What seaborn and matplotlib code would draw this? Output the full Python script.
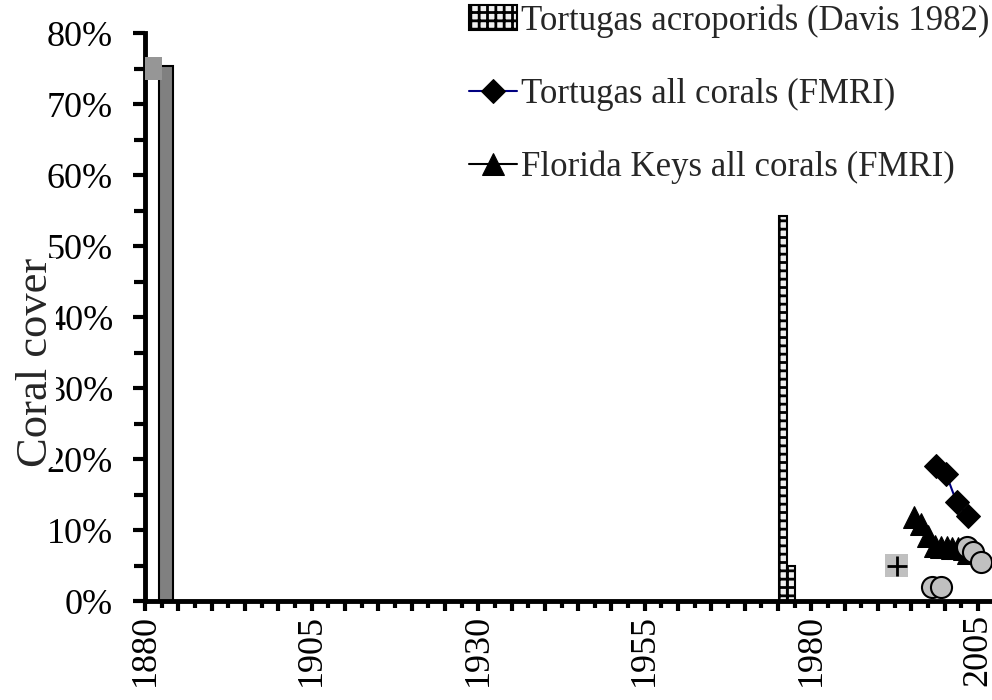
import matplotlib
matplotlib.use("Agg")
import matplotlib.pyplot as plt
from matplotlib.ticker import MultipleLocator, FuncFormatter
import seaborn as sns

# valores (ano, % de cobertura)
early_year = [1880.9]
early_val = [75.0]
early_bar_year = [1883.2]
early_bar_val = [75.3]
davis_years = [1975.8, 1977.0]
davis_vals = [54.3, 5.0]
plus_year = [1992.8]
plus_val = [5.0]
tortugas_years = [1998.7, 2000.2, 2001.8, 2003.5]
tortugas_vals = [19.0, 17.9, 13.9, 12.0]
keys_years = [1995.4, 1996.4, 1997.5, 1998.6, 1999.5, 2000.3, 2001.1, 2002.0, 2002.9, 2003.5]
keys_vals = [11.8, 10.8, 9.2, 7.8, 7.6, 7.6, 7.5, 7.4, 7.3, 6.8]
circle_years = [1998.1, 1999.5, 2003.3, 2004.3, 2005.5]
circle_vals = [2.0, 2.0, 7.6, 6.9, 5.5]

sns.set_style("ticks")
plt.rcParams['font.family'] = ['Liberation Serif', 'DejaVu Serif']
plt.rcParams['hatch.linewidth'] = 2.0

fig = plt.figure(figsize=(9.92, 7.0), dpi=100)
ax = fig.add_axes([0.1462, 0.1414, 0.8538, 0.8114])

# barras
ax.bar(early_bar_year, early_bar_val, width=2.1, color='#808080', edgecolor='black', linewidth=1.5, zorder=2)
ax.bar(davis_years, davis_vals, width=1.2, color='#f0f0f0', edgecolor='black', linewidth=1.5,
       hatch='++', label='Tortugas acroporids (Davis 1982)', zorder=2)

# marcadores isolados
sns.scatterplot(x=early_year, y=early_val, marker='s', s=270, color='#969696', edgecolor='none', ax=ax, zorder=3)
sns.scatterplot(x=plus_year, y=plus_val, marker='s', s=270, color='#c0c0c0', edgecolor='none', ax=ax, zorder=3)
sns.scatterplot(x=plus_year, y=plus_val, marker='+', s=200, color='black', linewidth=2, ax=ax, zorder=4)

# series FMRI
sns.lineplot(x=keys_years, y=keys_vals, color='black', linewidth=1.5, marker='^', markersize=16,
             markerfacecolor='black', markeredgecolor='black', label='Florida Keys all corals (FMRI)', ax=ax, zorder=4)
sns.lineplot(x=tortugas_years, y=tortugas_vals, color='#000080', linewidth=1.5, marker='D', markersize=12,
             markerfacecolor='black', markeredgecolor='black', label='Tortugas all corals (FMRI)', ax=ax, zorder=5)
sns.scatterplot(x=circle_years, y=circle_vals, marker='o', s=230, color='#c0c0c0', edgecolor='black',
                linewidth=1.5, ax=ax, zorder=6)

# eixos
ax.set_xlim(1880, 2007.1)
ax.set_ylim(0, 80)
ax.yaxis.set_major_locator(MultipleLocator(10))
ax.yaxis.set_minor_locator(MultipleLocator(5))
ax.yaxis.set_major_formatter(FuncFormatter(lambda v, p: f"{v:.0f}%"))
ax.xaxis.set_major_locator(MultipleLocator(5))
ax.xaxis.set_minor_locator(MultipleLocator(2.5))
ax.xaxis.set_major_formatter(FuncFormatter(lambda v, p: f"{v:.0f}" if round(v - 1880) % 25 == 0 else ""))
ax.tick_params(axis='both', which='major', labelsize=26, width=3, color='black', labelcolor='black')
ax.tick_params(axis='y', which='major', length=9, pad=14)
ax.tick_params(axis='y', which='minor', length=8, width=3, color='black')
ax.tick_params(axis='x', which='major', length=7, labelrotation=90, pad=2)
ax.tick_params(axis='x', which='minor', length=5, width=3, color='black')

for side in ['top', 'right']:
    ax.spines[side].set_visible(False)
for side in ['left', 'bottom']:
    ax.spines[side].set_linewidth(3.5)
    ax.spines[side].set_color('black')

ax.set_xlabel('')
ax.set_ylabel('Coral cover', fontsize=32, bbox=dict(facecolor='white', edgecolor='none', pad=0))
ax.yaxis.set_label_coords(-0.105, 0.42)

handles, labels = ax.get_legend_handles_labels()
order = ['Tortugas acroporids (Davis 1982)', 'Tortugas all corals (FMRI)', 'Florida Keys all corals (FMRI)']
hl = dict(zip(labels, handles))
ax.legend([hl[k] for k in order], order, loc='upper right', bbox_to_anchor=(0.997, 0.994),
          bbox_transform=fig.transFigure, frameon=False, fontsize=25, labelspacing=1.15,
          handlelength=1.4, handletextpad=0.1, borderaxespad=0.0, borderpad=0.0)

plt.savefig('out.png', dpi=100)
plt.close()
